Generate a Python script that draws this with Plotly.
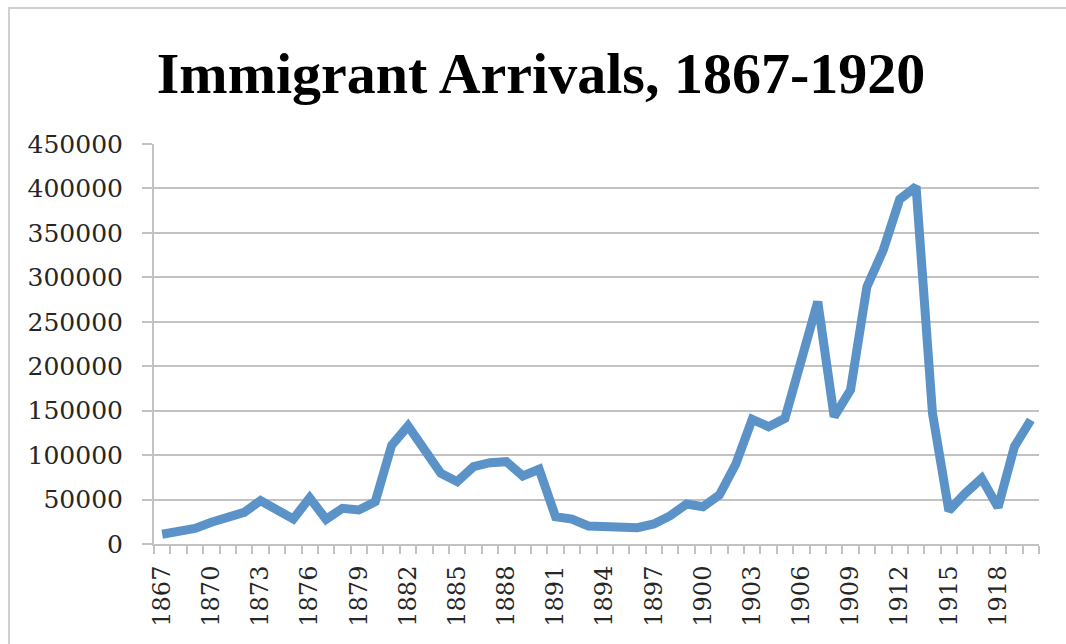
import plotly.graph_objects as go

years = list(range(1867, 1921))
arrivals = [
    11000, 13900, 17600, 24400, 28900, 35600, 48750, 38250, 28100, 52000,
    27750, 40100, 38250, 47600, 111000, 132750, 103900, 79500, 70100, 87000,
    91500, 92600, 76500, 84000, 30750, 28100, 20250, 20250, 18750, 18400,
    22500, 31900, 45000, 42000, 55100, 90000, 140250, 132000, 141400, 210750,
    272600, 143250, 173250, 289500, 330750, 387750, 402000, 147000, 37500, 57000,
    73900, 41250, 109500, 139500,
]
label_years = list(range(1867, 1921, 3))
y_ticks = list(range(0, 450001, 50000))

W, H = 1066, 644
L, R, T, B = 154, 27, 144, 100
pw, ph = W - L - R, H - T - B

fig = go.Figure()
fig.add_trace(go.Scatter(
    x=years, y=arrivals, mode="lines",
    line=dict(color="#5b93c9", width=9),
    hoverinfo="x+y", showlegend=False,
))

grey = "#c2c2c2"
tickfont = dict(family="DejaVu Serif", size=24, color="#262626")

fig.update_layout(
    width=W, height=H,
    margin=dict(l=L, r=R, t=T, b=B),
    paper_bgcolor="white", plot_bgcolor="white",
    title=dict(
        text="<b>Immigrant Arrivals, 1867-1920</b>",
        font=dict(family="Liberation Serif", size=58, color="black"),
        xref="container", yref="container",
        x=541 / W, y=1 - 73 / H, xanchor="center", yanchor="middle",
    ),
    xaxis=dict(
        range=[1866.5, 1920.5],
        tickmode="array", tickvals=label_years,
        ticktext=[str(v) for v in label_years],
        tickangle=-90, ticks="", showgrid=False, zeroline=False,
        showline=True, linecolor=grey, linewidth=2,
        tickfont=tickfont, ticklabelstandoff=10,
        minor=dict(ticks="outside", tick0=1866.5, dtick=1, ticklen=8,
                   tickcolor=grey, tickwidth=2, showgrid=False),
    ),
    yaxis=dict(
        range=[0, 450000], tickmode="array", tickvals=y_ticks,
        tickformat="d", showgrid=True, gridcolor=grey, gridwidth=2,
        zeroline=False, showline=True, linecolor=grey, linewidth=2,
        ticks="outside", ticklen=10, tickcolor=grey, tickwidth=2,
        tickfont=dict(family="DejaVu Serif", size=25, color="#262626"),
        ticklabelstandoff=14,
    ),
    shapes=[dict(
        type="rect", xref="paper", yref="paper",
        x0=(9 - L) / pw, x1=(W + 20 - L) / pw,
        y0=-(B + 20) / ph, y1=(H - B - 8) / ph,
        line=dict(color="#d0d0d0", width=2), layer="below",
    )],
)
fig.write_html(
    "out.html",
    config={"displayModeBar": False},
    post_script="document.body.style.margin='0';document.body.style.overflow='hidden';",
)
